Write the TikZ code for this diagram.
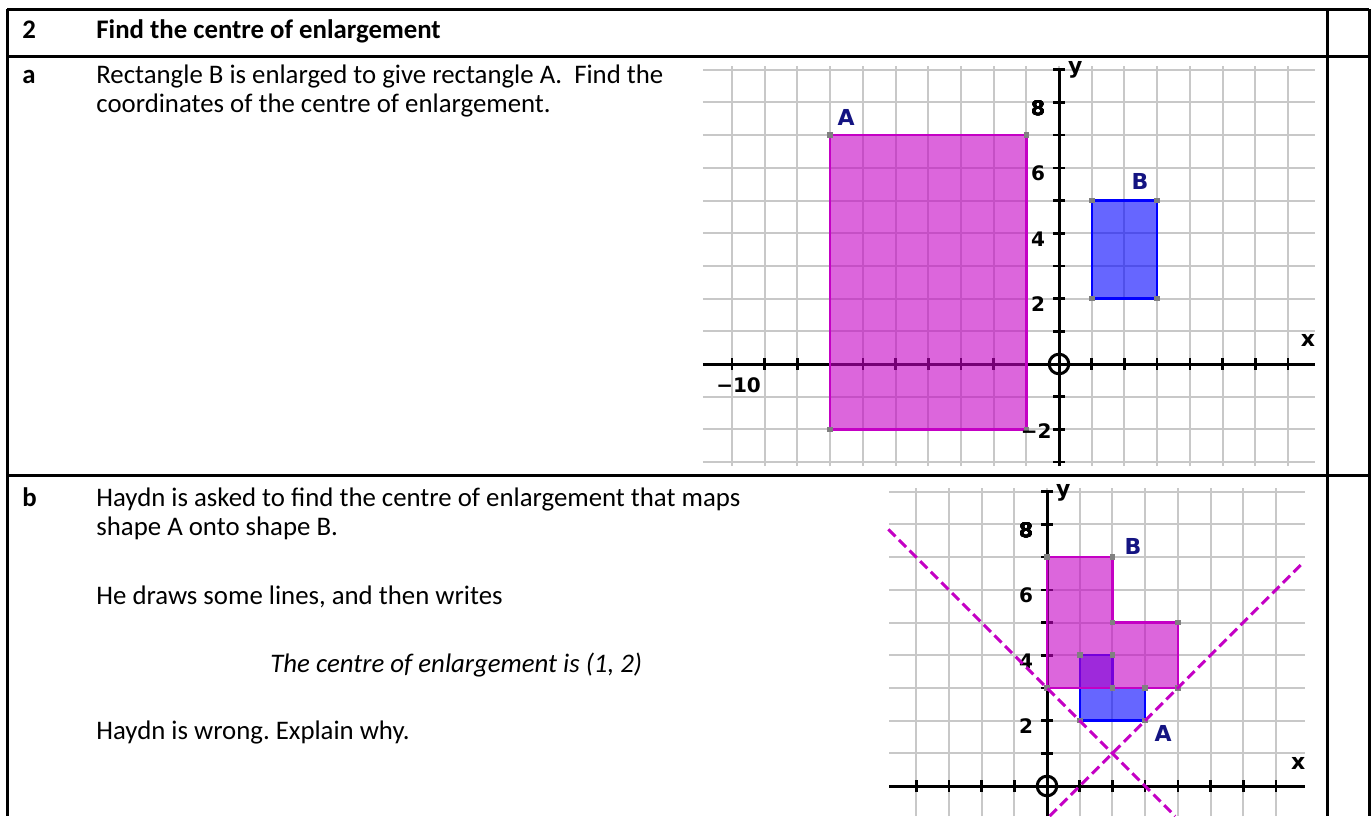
\documentclass[tikz,border=0pt]{standalone}
\usepackage{fontspec}
\setmainfont{Carlito}
\newfontfamily\graphfont{DejaVu Sans}
\usetikzlibrary{positioning}
\frenchspacing
\definecolor{shapeA}{RGB}{196,0,196}
\definecolor{shapeB}{RGB}{0,0,255}
\definecolor{gridgray}{RGB}{200,200,200}
\definecolor{labelblue}{RGB}{20,20,130}
\definecolor{vertexgray}{RGB}{128,128,128}
\newcommand{\vtx}[1]{\fill[vertexgray] #1 ++(-1.4pt,-1.4pt) rectangle ++(2.8pt,2.8pt);}

\begin{document}
\begin{tikzpicture}[x=0.5pt,y=-0.5pt,
		frame/.style={line width=1.5pt},
		txt/.style={anchor=base west,inner sep=0,font=\fontsize{13.4}{15.5}\selectfont},
		boldtxt/.style={txt,font=\bfseries\fontsize{13.4}{15.5}\selectfont},
		gridline/.style={gridgray,line width=1pt},
		axis/.style={black,line width=1.5pt},
		tick/.style={black,line width=1.3pt},
		num/.style={inner sep=0,font=\graphfont\bfseries\fontsize{10}{11}\selectfont},
		axlabel/.style={inner sep=0,font=\graphfont\bfseries\fontsize{11}{12}\selectfont},
		shapelabel/.style={inner sep=0,text=labelblue,font=\graphfont\bfseries\fontsize{11}{12}\selectfont},
		magshape/.style={draw=shapeA,fill=shapeA,fill opacity=0.6,line width=1.2pt},
		blueshape/.style={draw=shapeB,fill=shapeB,fill opacity=0.6,line width=1.2pt},
		construct/.style={shapeA,line width=1.5pt,dash pattern=on 5pt off 2.5pt}]
	\useasboundingbox (0,0) rectangle (1372,816);
	% table
	\draw[frame] (7,9) -- (1369,9);
	\draw[frame] (7,56) -- (1369,56);
	\draw[frame] (7,475) -- (1369,475);
	\draw[frame] (7,9) -- (7,816);
	\draw[frame] (1327,9) -- (1327,816);
	\draw[frame] (1369,9) -- (1369,816);
	% texts
	\node[boldtxt] (qnum) at (22,38) {2};
	\node[boldtxt] (qtitle) at (96,38) {Find the centre of enlargement};
	\node[boldtxt] (parta) at (22,83) {a};
	\node[txt] (partaone) at (96,83) {Rectangle B is enlarged to give rectangle A.\ \ Find the};
	\node[txt] (partatwo) at (96,112) {coordinates of the centre of enlargement.};
	\node[boldtxt] (partb) at (22,506) {b};
	\node[txt] (partbone) at (96,506) {Haydn is asked to find the centre of enlargement that maps};
	\node[txt] (partbtwo) at (96,535) {shape A onto shape B.};
	\node[txt] (partbthree) at (96,604) {He draws some lines, and then writes};
	\node[txt,font=\itshape\fontsize{13.4}{15.5}\selectfont] (claim) at (270,672) {The centre of enlargement is (1, 2)};
	\node[txt] (partbfour) at (96,739) {Haydn is wrong. Explain why.};

	% graph for part a
	\begin{scope}[shift={(1059,364)},x=16.35pt,y=16.35pt]
		\foreach \i in {-10,...,7} \draw[gridline] (\i,-3.12) -- (\i,9.1);
		\foreach \j in {-3,...,9} \draw[gridline] (-10.89,\j) -- (7.83,\j);
		\draw[axis] (-10.89,0) -- (7.83,0);
		\draw[axis] (0,-3.12) -- (0,9);
		\foreach \i in {-10,...,-1,1,2,...,7} \draw[tick] (\i,-0.18) -- (\i,0.18);
		\foreach \j in {-3,-2,-1,1,2,...,9} \draw[tick] (-0.18,\j) -- (0.18,\j);
		\draw[axis,fill=white] (0,0) circle (0.3);
		\draw[axis] (-0.3,0) -- (0.3,0) (0,-0.3) -- (0,0.3);
		\draw[magshape] (-7,-2) rectangle (-1,7);
		\draw[blueshape] (1,2) rectangle (3,5);
		\foreach \p in {(-7,-2),(-1,-2),(-1,7),(-7,7),(1,2),(3,2),(3,5),(1,5)} \vtx{\p}
		\node[num] (topeight) at (-0.64,7.82) {8};
		\node[num] (topsix) at (-0.64,5.82) {6};
		\node[num] (topfour) at (-0.64,3.82) {4};
		\node[num] (toptwo) at (-0.64,1.82) {2};
		\node[num] (topmtwo) at (-0.7,-2.05) {−2};
		\node[num] (topmten) at (-9.8,-0.66) {−10};
		\node[axlabel] (topx) at (7.61,0.73) {x};
		\node[axlabel] (topy) at (0.5,9.0) {y};
		\node[shapelabel] (topA) at (-6.51,7.55) {A};
		\node[shapelabel] (topB) at (2.48,5.57) {B};
	\end{scope}

	% graph for part b
	\begin{scope}[shift={(1047,786)},x=16.35pt,y=16.35pt]
		\foreach \i in {-4,...,7} \draw[gridline] (\i,-0.92) -- (\i,9.1);
		\foreach \j in {0,...,9} \draw[gridline] (-4.83,\j) -- (7.89,\j);
		\draw[axis] (-4.83,0) -- (7.89,0);
		\draw[axis] (0,-0.92) -- (0,9);
		\foreach \i in {-4,...,-1,1,2,...,7} \draw[tick] (\i,-0.18) -- (\i,0.18);
		\foreach \j in {1,2,...,9} \draw[tick] (-0.18,\j) -- (0.18,\j);
		\draw[axis,fill=white] (0,0) circle (0.3);
		\draw[axis] (-0.3,0) -- (0.3,0) (0,-0.3) -- (0,0.3);
		\draw[blueshape] (1,2) -- (3,2) -- (3,3) -- (2,3) -- (2,4) -- (1,4) -- cycle;
		\draw[magshape] (0,3) -- (0,7) -- (2,7) -- (2,5) -- (4,5) -- (4,3) -- cycle;
		\foreach \p in {(0,3),(0,7),(2,7),(2,5),(4,5),(4,3),(1,2),(3,2),(3,3),(2,3),(2,4),(1,4)} \vtx{\p}
		\node[num] (boteight) at (-0.64,7.82) {8};
		\node[num] (botsix) at (-0.64,5.82) {6};
		\node[num] (botfour) at (-0.64,3.82) {4};
		\node[num] (bottwo) at (-0.64,1.82) {2};
		\node[axlabel] (botx) at (7.68,0.7) {x};
		\node[axlabel] (boty) at (0.5,8.96) {y};
		\node[shapelabel] (botB) at (2.63,7.34) {B};
		\node[shapelabel] (botA) at (3.55,1.62) {A};
		\coordinate (lineonestart) at (-4.85,7.85);
		\coordinate (lineoneend) at (3.92,-0.92);
		\coordinate (linetwostart) at (0.08,-0.92);
		\coordinate (linetwoend) at (7.85,6.85);
		\draw[construct] (lineonestart) -- (lineoneend);
		\draw[construct] (linetwostart) -- (linetwoend);
	\end{scope}
\end{tikzpicture}
\end{document}
